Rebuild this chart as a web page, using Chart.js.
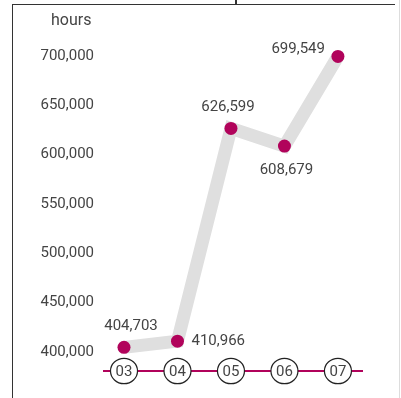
<!DOCTYPE html>
<html>
<head>
<meta charset="utf-8">
<script src="https://cdn.jsdelivr.net/npm/chart.js@4"></script>
<style>
  html, body { margin: 0; padding: 0; background: #fff; }
  #wrap { position: relative; width: 401px; height: 398px; overflow: hidden; }
  #frame { position: absolute; left: 12px; top: 4px; width: 382px; height: 400px;
           border-left: 1.5px solid #333; border-top: 1.5px solid #333; pointer-events: none; }
  #notch { position: absolute; left: 235px; top: 0; width: 1.5px; height: 5px; background: #333; }
  #edge { position: absolute; left: 399px; top: 0; width: 1px; height: 398px; background: #ddd; }
  canvas { position: absolute; left: 0; top: 0; }
</style>
</head>
<body>
<div id="wrap">
  <canvas id="chart" width="401" height="398"></canvas>
  <div id="frame"></div>
  <div id="notch"></div>
  <div id="edge"></div>
</div>
<script>
const years = ['03', '04', '05', '06', '07'];
const hours = [404703, 410966, 626599, 608679, 699549];
const yTicks = [400000, 450000, 500000, 550000, 600000, 650000, 700000];
const unitLabel = 'hours';

const MAGENTA = '#b1035b';
const TEXT = '#444';
const FONT = 'Roboto, "Noto Sans", sans-serif';

// where each value label sits relative to its point
const labelPlacement = ['above', 'right', 'above', 'below', 'left'];

const fmt = v => v.toLocaleString('en-US');

const decorPlugin = {
  id: 'decor',
  afterDatasetsDraw(chart) {
    const ctx = chart.ctx;
    const xs = chart.scales.x;
    const meta = chart.getDatasetMeta(0);
    ctx.save();
    ctx.font = '15px ' + FONT;
    ctx.fillStyle = TEXT;

    // value labels
    meta.data.forEach((pt, i) => {
      const t = fmt(hours[i]);
      const pos = labelPlacement[i];
      ctx.textBaseline = 'middle';
      if (pos === 'above') {
        ctx.textAlign = 'center';
        ctx.fillText(t, pt.x + (i === 0 ? 7 : -3), pt.y - 21);
      } else if (pos === 'below') {
        ctx.textAlign = 'center';
        ctx.fillText(t, pt.x + 2, pt.y + 24);
      } else if (pos === 'right') {
        ctx.textAlign = 'left';
        ctx.fillText(t, pt.x + 14, pt.y);
      } else {
        ctx.textAlign = 'right';
        ctx.fillText(t, pt.x - 13, pt.y - 7);
      }
    });

    // circled category labels on the axis
    const yb = chart.chartArea.bottom;
    years.forEach((lab, i) => {
      const x = xs.getPixelForValue(i);
      ctx.beginPath();
      ctx.ellipse(x, yb, 13.5, 12.7, 0, 0, Math.PI * 2);
      ctx.fillStyle = '#fff';
      ctx.fill();
      ctx.lineWidth = 1.2;
      ctx.strokeStyle = '#222';
      ctx.stroke();
      ctx.fillStyle = TEXT;
      ctx.textAlign = 'center';
      ctx.textBaseline = 'middle';
      ctx.fillText(lab, x, yb + 1);
    });

    // unit label
    ctx.font = '16px ' + FONT;
    ctx.textAlign = 'left';
    ctx.textBaseline = 'middle';
    ctx.fillText(unitLabel, 51, 21);
    ctx.restore();
  }
};

new Chart(document.getElementById('chart'), {
  type: 'line',
  data: {
    datasets: [{
      data: hours.map((v, i) => ({ x: i, y: v })),
      borderColor: '#dfdfdf',
      borderWidth: 13,
      borderCapStyle: 'butt',
      borderJoinStyle: 'miter',
      tension: 0,
      pointRadius: 6.5,
      pointBackgroundColor: MAGENTA,
      pointBorderWidth: 0,
      clip: false
    }]
  },
  options: {
    responsive: false,
    animation: false,
    events: [],
    layout: { padding: { top: 34, right: 39, bottom: 0, left: 0 } },
    plugins: { legend: { display: false }, tooltip: { enabled: false } },
    scales: {
      x: {
        type: 'linear',
        min: -0.374,
        max: 4.45,
        grid: { display: false },
        border: { display: true, color: MAGENTA, width: 2 },
        ticks: { display: false },
        afterFit(scale) { scale.height = 27; }
      },
      y: {
        min: 380740,
        max: 722300,
        grid: { display: false },
        border: { display: false },
        afterBuildTicks(scale) { scale.ticks = yTicks.map(v => ({ value: v })); },
        afterFit(scale) { scale.width = 104; },
        ticks: {
          padding: 2,
          color: TEXT,
          font: { family: FONT, size: 15 },
          callback: v => fmt(v)
        }
      }
    }
  },
  plugins: [decorPlugin]
});
</script>
</body>
</html>
